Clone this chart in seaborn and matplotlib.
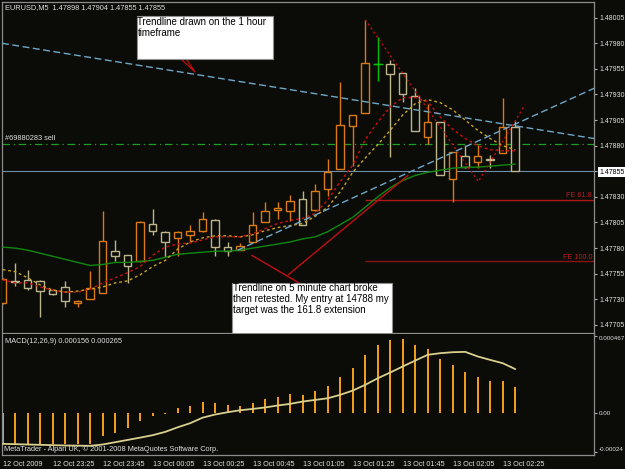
import numpy as np
import pandas as pd
import matplotlib
matplotlib.use('Agg')
import matplotlib.pyplot as plt
import seaborn as sns
from matplotlib.patches import Rectangle

# --- data ---
time_labels = ['12 Oct 2009', '12 Oct 23:25', '12 Oct 23:45', '13 Oct 00:05', '13 Oct 00:25',
               '13 Oct 00:45', '13 Oct 01:05', '13 Oct 01:25', '13 Oct 01:45', '13 Oct 02:05',
               '13 Oct 02:25']

opens = [1.47726, 1.47748, 1.47749, 1.47748, 1.47739, 1.47742, 1.47726, 1.47730, 1.47736, 1.47777,
         1.47773, 1.47767, 1.47804, 1.47796, 1.47790, 1.47793, 1.47797, 1.47807, 1.47781, 1.47778,
         1.47786, 1.47805, 1.47817, 1.47816, 1.47828, 1.47817, 1.47838, 1.47857, 1.47899, 1.47912,
         1.47960, 1.47960, 1.47951, 1.47929, 1.47888, 1.47903, 1.47847, 1.47870, 1.47864, 1.47867,
         1.47873, 1.47898]
highs = [1.47751, 1.47765, 1.47759, 1.47749, 1.47740, 1.47748, 1.47729, 1.47758, 1.47816, 1.47788,
         1.47773, 1.47806, 1.47818, 1.47797, 1.47797, 1.47803, 1.47815, 1.47808, 1.47786, 1.47785,
         1.47815, 1.47825, 1.47825, 1.47832, 1.47836, 1.47843, 1.47867, 1.47942, 1.47910, 1.48003,
         1.47986, 1.47964, 1.47951, 1.47936, 1.47921, 1.47903, 1.47874, 1.47881, 1.47881, 1.47871,
         1.47927, 1.47904]
lows = [1.47725, 1.47743, 1.47739, 1.47713, 1.47734, 1.47722, 1.47722, 1.47730, 1.47736, 1.47767,
        1.47746, 1.47766, 1.47793, 1.47771, 1.47772, 1.47786, 1.47796, 1.47772, 1.47772, 1.47778,
        1.47786, 1.47805, 1.47808, 1.47806, 1.47803, 1.47816, 1.47831, 1.47857, 1.47860, 1.47912,
        1.47943, 1.47869, 1.47923, 1.47894, 1.47882, 1.47851, 1.47825, 1.47858, 1.47858, 1.47858,
        1.47873, 1.47855]
closes = [1.47750, 1.47747, 1.47741, 1.47738, 1.47735, 1.47728, 1.47728, 1.47741, 1.47787, 1.47772,
          1.47763, 1.47805, 1.47797, 1.47786, 1.47796, 1.47797, 1.47808, 1.47781, 1.47777, 1.47782,
          1.47803, 1.47816, 1.47819, 1.47826, 1.47803, 1.47836, 1.47854, 1.47900, 1.47910, 1.47961,
          1.47960, 1.47950, 1.47930, 1.47894, 1.47903, 1.47851, 1.47874, 1.47859, 1.47870, 1.47866,
          1.47898, 1.47855]

ma_fast = [1.47749, 1.47746, 1.47746, 1.47742, 1.47739, 1.47737, 1.47737, 1.47740, 1.47746, 1.47751,
           1.47756, 1.47762, 1.47773, 1.47781, 1.47784, 1.47785, 1.47788, 1.47791, 1.47791, 1.47791,
           1.47794, 1.47799, 1.47804, 1.47807, 1.47809, 1.47814, 1.47827, 1.47845, 1.47861, 1.47886,
           1.47903, 1.47918, 1.47927, 1.47927, 1.47923, 1.47908, 1.47896, 1.47887, 1.47880, 1.47876,
           1.47875, 1.47875]
ma_mid = [1.47759, 1.47757, 1.47751, 1.47744, 1.47739, 1.47737, 1.47738, 1.47740, 1.47742, 1.47746,
          1.47748, 1.47754, 1.47762, 1.47768, 1.47779, 1.47786, 1.47790, 1.47792, 1.47792, 1.47791,
          1.47793, 1.47797, 1.47800, 1.47802, 1.47804, 1.47811, 1.47820, 1.47835, 1.47854, 1.47868,
          1.47881, 1.47895, 1.47910, 1.47921, 1.47925, 1.47922, 1.47915, 1.47905, 1.47895, 1.47887,
          1.47880, 1.47876]
ma_slow = [1.47781, 1.47780, 1.47778, 1.47775, 1.47772, 1.47769, 1.47766, 1.47763, 1.47764, 1.47766,
           1.47766, 1.47767, 1.47768, 1.47771, 1.47774, 1.47775, 1.47776, 1.47777, 1.47777, 1.47778,
           1.47780, 1.47782, 1.47784, 1.47786, 1.47789, 1.47791, 1.47796, 1.47803, 1.47810, 1.47820,
           1.47830, 1.47839, 1.47846, 1.47851, 1.47854, 1.47856, 1.47858, 1.47859, 1.47859, 1.47860,
           1.47861, 1.47862]

macd_hist = [-0.000191, -0.000191, -0.000191, -0.000191, -0.000191, -0.000191, -0.000191, -0.000191,
             -0.000146, -0.000122, -0.000096, -0.000049, -0.000020, -0.000006, 0.000026, 0.000041,
             0.000063, 0.000057, 0.000047, 0.000041, 0.000057, 0.000081, 0.000093, 0.000114, 0.000108,
             0.000132, 0.000163, 0.000215, 0.000270, 0.000352, 0.000411, 0.000443, 0.000447, 0.000413,
             0.000389, 0.000328, 0.000291, 0.000248, 0.000215, 0.000193, 0.000193, 0.000156]
macd_signal = [-0.000191, -0.000193, -0.000195, -0.000197, -0.000199, -0.000201, -0.000202, -0.000203,
               -0.000195, -0.000181, -0.000167, -0.000153, -0.000138, -0.000118, -0.000090, -0.000065,
               -0.000031, -0.000012, 0.000002, 0.000014, 0.000022, 0.000031, 0.000043, 0.000053, 0.000067,
               0.000077, 0.000087, 0.000108, 0.000134, 0.000169, 0.000209, 0.000244, 0.000281, 0.000317,
               0.000352, 0.000362, 0.000368, 0.000370, 0.000342, 0.000321, 0.000301, 0.000265]

price_ticks = [1.48005, 1.47980, 1.47955, 1.47930, 1.47905, 1.47880, 1.47855,
               1.47830, 1.47805, 1.47780, 1.47755, 1.47730, 1.47705]
macd_ticks = [0.000467, 0.0, -0.00024]
macd_tick_labels = ['0.000467', '0.00', '-0.00024']

sell_level = 1.47882
bid = 1.47855
fe_levels = [1.47827, 1.47767]
fe_labels = ['FE 61.8', 'FE 100.0']
fe_start = 29
hour_trend_x, hour_trend_y = [-0.06, 47.3], [1.47980, 1.47887]
m5_trend_x, m5_trend_y = [18.8, 47.3], [1.47778, 1.47936]
fibo_x, fibo_y = [29, 38.05, 41.78], [1.48003, 1.47845, 1.47920]

df = pd.DataFrame({'open': opens, 'high': highs, 'low': lows, 'close': closes})
df['bar'] = np.arange(len(df))

bg = '#0b0b08'
bull, bear, doji = '#d97a16', '#bdb58c', '#00c000'
df['col'] = np.where(df['close'] > df['open'], bull, np.where(df['close'] < df['open'], bear, doji))

sns.set_style('dark')
plt.rcParams['font.family'] = ['Liberation Sans', 'DejaVu Sans']

W, H = 625, 469
fig = plt.figure(figsize=(6.25, 4.69), dpi=100, facecolor=bg)
ax = fig.add_axes([2 / W, (H - 333) / H, 592 / W, 331 / H])
ax2 = fig.add_axes([2 / W, (H - 455) / H, 592 / W, 121 / H])

xlim = (-0.056, 47.3)
for a in (ax, ax2):
    a.set_facecolor(bg)
    a.set_xlim(*xlim)
    for s in a.spines.values():
        s.set_color('#8c8c8c')
        s.set_linewidth(0.9)
ax2.spines['top'].set_visible(False)
ax.set_ylim(1.476971, 1.480203)
ax2.set_ylim(-0.000259, 0.000479)

# horizontal levels
ax.axhline(bid, color='#6f8fa6', lw=0.8, zorder=1)
ax.axhline(sell_level, color='#20a020', lw=0.9, ls=(0, (6, 3, 1, 3)), zorder=1)
for lv, lb in zip(fe_levels, fe_labels):
    ax.hlines(lv, fe_start, xlim[1], color='#b01818' if lb == 'FE 61.8' else '#8a1414', lw=1, zorder=1)
    ax.text(47.15, lv + 0.00004, lb, color='#b82020', fontsize=5.2, ha='right', va='center')

# trendlines
ax.plot(hour_trend_x, hour_trend_y, color='#6ea8c8', lw=1, ls=(0, (5, 2.5)), zorder=5)
ax.plot(m5_trend_x, m5_trend_y, color='#6ea8c8', lw=1, ls=(0, (5, 2.5)), zorder=5)
ax.plot(fibo_x, fibo_y, color='#c01010', lw=1, ls=(0, (1.5, 2)), zorder=5)
ax.plot([19.92, 23.7], [1.47773, 1.47746], color='#c01010', lw=1, zorder=5)
ax.plot([22.85, 32.42], [1.47754, 1.47851], color='#c01010', lw=1, zorder=5)
ax.plot([14.32, 15.38, 14.72], [1.47964, 1.47952, 1.47964], color='#c01010', lw=0.9, zorder=5)

# candles
ax.vlines(df['bar'], df['low'], df['high'], colors=df['col'], lw=1, zorder=2)
ax.bar(df['bar'], (df['close'] - df['open']).abs(), bottom=df[['open', 'close']].min(axis=1),
       width=0.6, facecolor=bg, edgecolor=df['col'], linewidth=1, zorder=3)
dj = df[df['close'] == df['open']]
ax.hlines(dj['open'], dj['bar'] - 0.4, dj['bar'] + 0.4, colors=dj['col'], lw=1, zorder=3)

# moving averages
bars = df['bar'].values
sns.lineplot(x=bars, y=ma_slow, ax=ax, color='#0f8a0f', linewidth=1, zorder=4)
sns.lineplot(x=bars, y=ma_mid, ax=ax, color='#c9a224', linewidth=1, linestyle=(0, (2, 2)), zorder=4)
sns.lineplot(x=bars, y=ma_fast, ax=ax, color='#cc1010', linewidth=1, linestyle=(0, (2, 2)), zorder=4)

# annotation boxes
ax.add_patch(Rectangle((10.72, 1.479644), 21.6 - 10.72, 1.480067 - 1.479644,
                       facecolor='white', edgecolor='#909090', lw=0.8, zorder=6))
ax.text(10.78, 1.48006, 'Trendline drawn on the 1 hour\ntimeframe', color='black',
        fontsize=7, va='top', ha='left', linespacing=1.15, zorder=7)
ax.add_patch(Rectangle((18.37, 1.4769), 31.17 - 18.37, 1.477462 - 1.4769,
                       facecolor='white', edgecolor='#909090', lw=0.8, zorder=6))
ax.text(18.42, 1.47746, 'Trendline on 5 minute chart broke\nthen retested. My entry at 14788 my\n'
        'target was the 161.8 extension', color='black', fontsize=7, va='top', ha='left',
        linespacing=1.15, zorder=7)

# price axis
ax.yaxis.tick_right()
ax.set_yticks(price_ticks)
ax.set_yticklabels(['%.5f' % p for p in price_ticks])
ax.tick_params(axis='y', color='#b0b0b0', labelcolor='#e0e0e0', length=2.5, width=0.8,
               pad=1.2, labelsize=5.0)
ax.set_xticks([])
for t, p in zip(ax.get_yticklabels(), price_ticks):
    if abs(p - bid) < 1e-7:
        t.set_color('black')
        t.set_bbox(dict(facecolor='white', edgecolor='none', pad=1.0))

# MACD panel
ax2.bar(bars, macd_hist, width=0.17, color='#ef9c1c', edgecolor='none', linewidth=0, zorder=2)
sns.lineplot(x=bars, y=macd_signal, ax=ax2, color='#d8d08c', linewidth=1.3, zorder=3)
ax2.yaxis.tick_right()
ax2.set_yticks(macd_ticks)
ax2.set_yticklabels(macd_tick_labels)
ax2.tick_params(axis='y', color='#b0b0b0', labelcolor='#e0e0e0', length=2.5, width=0.8,
                pad=1.0, labelsize=4.5)
lbls = ax2.get_yticklabels()
lbls[0].set_va('top')
lbls[2].set_va('bottom')
ax2.set_xticks(bars[::4][:len(time_labels)])
ax2.set_xticklabels(time_labels)
ax2.tick_params(axis='x', color='#b0b0b0', labelcolor='#e0e0e0', length=3, width=0.8,
                pad=1.5, labelsize=5.2)
for t in ax2.get_xticklabels():
    t.set_ha('left')

# header texts
def px(x, y):
    return x / W, 1 - y / H

fig.text(*px(5, 8), 'EURUSD,M5  1.47898 1.47904 1.47855 1.47855', color='#e0e0e0',
         fontsize=5.3, va='center')
ax.text(0.15, sell_level + 0.00005, '#69880283 sell', color='#e0e0e0', fontsize=5.3, va='center')
fig.text(*px(5, 341), 'MACD(12,26,9) 0.000156 0.000265', color='#e0e0e0', fontsize=5.3, va='center')
fig.text(*px(4, 449), 'MetaTrader - Alpari UK, \u00a9 2001-2008 MetaQuotes Software Corp.',
         color='#e0e0e0', fontsize=5.3, va='center')

fig.savefig('out.png', dpi=100, facecolor=bg)
